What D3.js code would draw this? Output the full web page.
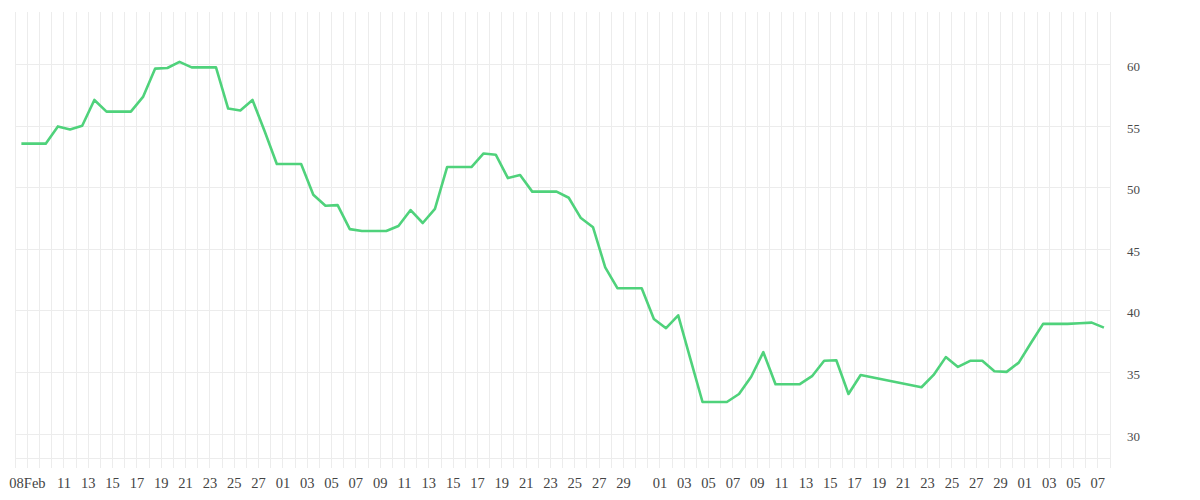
<!DOCTYPE html>
<html>
<head>
<meta charset="utf-8">
<script src="https://cdn.jsdelivr.net/npm/d3@7"></script>
<style>
  html, body { margin: 0; padding: 0; background: #fff; }
  svg { display: block; }
  text { font-family: "Liberation Serif", serif; }
</style>
</head>
<body>
<svg id="chart" width="1200" height="500"></svg>
<script>
// ---- data ----
const startDate = "2023-02-08";
const endDate = "2023-05-09"; // exclusive
const values = [
  53.6, 53.6, 53.6, 55.0, 54.75, 55.05, 57.15, 56.2, 56.2, 56.2,
  57.4, 59.7, 59.75, 60.25, 59.8, 59.8, 59.8, 56.45, 56.3, 57.15,
  54.6, 51.95, 51.95, 51.95, 49.45, 48.55, 48.6, 46.65, 46.5, 46.5,
  46.5, 46.9, 48.2, 47.15, 48.3, 51.7, 51.7, 51.7, 52.8, 52.7,
  50.8, 51.05, 49.7, 49.7, 49.7, 49.2, 47.55, 46.8, 43.55, 41.85,
  41.85, 41.85, 39.35, 38.6, 39.65, 36.1, 32.6, 32.6, 32.6, 33.25,
  34.65, 36.65, 34.05, 34.05, 34.05, 34.7, 35.95, 36.0, 33.25, 34.8,
  null, null, null, null, 33.8, 34.8, 36.25, 35.45, 35.95, 35.95,
  35.1, 35.05, 35.8, 37.4, 38.95, 38.95, 38.95, 39.0, 39.05, 38.65
];
const tickDates = [
  "2023-02-08","2023-02-11","2023-02-13","2023-02-15","2023-02-17","2023-02-19","2023-02-21","2023-02-23","2023-02-25","2023-02-27",
  "2023-03-01","2023-03-03","2023-03-05","2023-03-07","2023-03-09","2023-03-11","2023-03-13","2023-03-15","2023-03-17","2023-03-19",
  "2023-03-21","2023-03-23","2023-03-25","2023-03-27","2023-03-29",
  "2023-04-01","2023-04-03","2023-04-05","2023-04-07","2023-04-09","2023-04-11","2023-04-13","2023-04-15","2023-04-17","2023-04-19",
  "2023-04-21","2023-04-23","2023-04-25","2023-04-27","2023-04-29",
  "2023-05-01","2023-05-03","2023-05-05","2023-05-07"
];
const tickLabels = [
  "08Feb","11","13","15","17","19","21","23","25","27",
  "01","03","05","07","09","11","13","15","17","19",
  "21","23","25","27","29",
  "01","03","05","07","09","11","13","15","17","19",
  "21","23","25","27","29",
  "01","03","05","07"
];
const yTicks = [30, 35, 40, 45, 50, 55, 60];

// ---- layout ----
const svg = d3.select("#chart");
const plot = { left: 15.3, right: 1110, top: 12, bottom: 458 };
const parse = d3.utcParse("%Y-%m-%d");
const days = d3.utcDay.range(parse(startDate), parse(endDate));
const data = days.map((d, i) => ({ date: d, value: values[i] }));

const x = d3.scaleBand().domain(days.map(d => +d)).range([plot.left, plot.right]).padding(0);
const bw = x.bandwidth();
const xc = d => x(+d) + bw / 2;
const y = d3.scaleLinear().domain([28.05, 64.3]).range([plot.bottom, plot.top]);

const grid = "#ececec";

// vertical gridlines at band boundaries (+ tick marks below)
const bounds = days.map(d => x(+d)).concat([plot.right]);
svg.append("g").selectAll("line").data(bounds).join("line")
  .attr("x1", d => d).attr("x2", d => d)
  .attr("y1", plot.top).attr("y2", plot.bottom + 10)
  .attr("stroke", grid).attr("stroke-width", 1).attr("shape-rendering", "crispEdges");

// horizontal gridlines
svg.append("g").selectAll("line").data(yTicks).join("line")
  .attr("x1", plot.left).attr("x2", plot.right)
  .attr("y1", d => y(d)).attr("y2", d => y(d))
  .attr("stroke", grid).attr("stroke-width", 1).attr("shape-rendering", "crispEdges");
svg.append("line")
  .attr("x1", plot.left).attr("x2", plot.right)
  .attr("y1", plot.bottom).attr("y2", plot.bottom)
  .attr("stroke", grid).attr("shape-rendering", "crispEdges");

// y labels
svg.append("g").selectAll("text").data(yTicks).join("text")
  .attr("x", plot.right + 17).attr("y", d => y(d))
  .attr("dy", "0.5em")
  .attr("font-size", 13).attr("fill", "#4a4a4a")
  .text(d => d);

// x labels (at the end of each labelled day's band)
svg.append("g").selectAll("text").data(tickDates).join("text")
  .attr("x", d => x(+parse(d)) + bw)
  .attr("y", 487.5)
  .attr("text-anchor", "middle")
  .attr("font-size", 14.5).attr("fill", "#444")
  .text((d, i) => tickLabels[i]);

// line
const line = d3.line().x(d => xc(d.date)).y(d => y(d.value));
svg.append("path")
  .datum(data.filter(d => d.value != null))
  .attr("d", line)
  .attr("fill", "none")
  .attr("stroke", "#4fd27b")
  .attr("stroke-width", 2.6)
  .attr("stroke-linejoin", "round");
</script>
</body>
</html>
